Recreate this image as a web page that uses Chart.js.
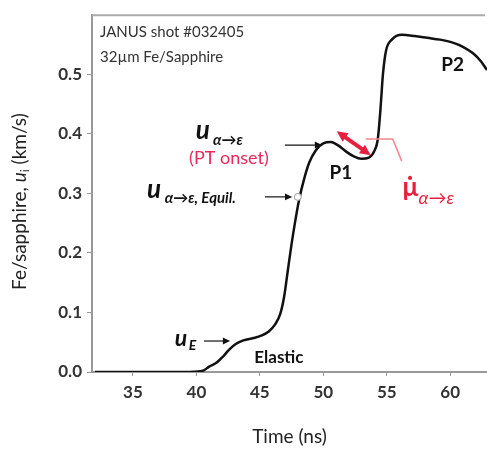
<!DOCTYPE html>
<html>
<head>
<meta charset="utf-8">
<script src="https://cdn.jsdelivr.net/npm/chart.js@4"></script>
<style>
  body { margin: 0; background: #fff; }
  #wrap { width: 487px; height: 452px; }
</style>
</head>
<body>
<div id="wrap"><canvas id="chart" width="487" height="452"></canvas></div>
<script>
// Fe/sapphire interface velocity, JANUS shot #032405

const times = [32, 34, 36, 38, 39.5, 40.5, 41.0, 41.6, 42.1, 42.6, 43.1, 43.7, 44.5, 45.1, 45.7, 46.2, 46.6, 46.9, 47.2,
  47.5, 47.8, 48.1, 48.5, 48.9, 49.4, 50.0, 50.6, 51.2, 51.8, 52.4, 53.0, 53.6, 54.0, 54.3, 54.5, 54.7, 54.95,
  55.4, 56.2, 57.2, 58.2, 59.2, 60.2, 61.0, 61.8, 62.4, 62.9];
const velocity = [0, 0, 0, 0, 0, 0.002, 0.009, 0.016, 0.026, 0.038, 0.047, 0.053, 0.057, 0.061, 0.068, 0.08, 0.097, 0.125, 0.17,
  0.215, 0.255, 0.29, 0.325, 0.352, 0.372, 0.384, 0.386, 0.38, 0.37, 0.362, 0.358, 0.36, 0.37, 0.392, 0.44, 0.5, 0.54,
  0.558, 0.566, 0.564, 0.561, 0.558, 0.553, 0.546, 0.535, 0.522, 0.507];

const xTicks = [35, 40, 45, 50, 55, 60];
const yTicks = [0, 0.1, 0.2, 0.3, 0.4, 0.5];

// text notes, in data coordinates
const notes = [
  { text: 'JANUS shot #032405', t: 32.4, u: 0.571, font: 'normal 15px', color: '#333', align: 'left' },
  { text: '32\u00b5m Fe/Sapphire', t: 32.4, u: 0.529, font: 'normal 15px', color: '#333', align: 'left' },
  { text: 'P2', t: 60.2, u: 0.516, font: 'bold 19px', color: '#111', align: 'center' },
  { text: 'P1', t: 51.38, u: 0.334, font: 'bold 19px', color: '#111', align: 'center' },
  { text: 'Elastic', t: 46.5, u: 0.024, font: 'bold 17px', color: '#111', align: 'center' },
  { text: 'u', t: 38.3, u: 0.056, font: 'italic bold 23px', color: '#111', align: 'left' },
  { text: 'E', t: 39.4, u: 0.045, font: 'italic bold 14px', color: '#111', align: 'left' },
  { text: 'u', t: 39.95, u: 0.406, font: 'italic bold 26px', color: '#111', align: 'left' },
  { text: '\u03b1\u2192\u03b5', t: 41.3, u: 0.389, font: 'italic bold 15px', color: '#111', align: 'left' },
  { text: '(PT onset)', t: 42.56, u: 0.359, font: 'normal 18px', color: '#e8295a', align: 'center' },
  { text: 'u', t: 36.1, u: 0.306, font: 'italic bold 26px', color: '#111', align: 'left' },
  { text: '\u03b1\u2192\u03b5, Equil.', t: 37.5, u: 0.292, font: 'italic bold 15px', color: '#111', align: 'left' },
  { text: '\u03bc\u0307', t: 56.25, u: 0.31, font: 'bold 26px', color: '#e8203f', align: 'left' },
  { text: '\u03b1\u2192\u03b5', t: 57.5, u: 0.291, font: 'italic 18px', color: '#e8203f', align: 'left' }
];

// arrows: [t1, u1, t2, u2]
const blackArrows = [
  [40.6, 0.052, 42.65, 0.052],
  [46.97, 0.381, 49.9, 0.381],
  [45.4, 0.294, 47.55, 0.294]
];
const redDoubleArrow = [51.06, 0.404, 53.74, 0.364];
const redLeader = [[53.35, 0.391], [55.47, 0.391], [56.18, 0.354]];
const equilPoint = [47.99, 0.294];

function arrowHead(ctx, x1, y1, x2, y2, size) {
  const a = Math.atan2(y2 - y1, x2 - x1);
  ctx.beginPath();
  ctx.moveTo(x2, y2);
  ctx.lineTo(x2 - size * Math.cos(a - 0.45), y2 - size * Math.sin(a - 0.45));
  ctx.lineTo(x2 - size * Math.cos(a + 0.45), y2 - size * Math.sin(a + 0.45));
  ctx.closePath();
  ctx.fill();
}

const notesPlugin = {
  id: 'notes',
  afterDraw(chart) {
    const ctx = chart.ctx;
    const xs = chart.scales.x, ys = chart.scales.y;
    const px = t => xs.getPixelForValue(t);
    const py = u => ys.getPixelForValue(u);
    const area = chart.chartArea;
    ctx.save();

    // top frame line
    ctx.strokeStyle = '#aaa';
    ctx.lineWidth = 2;
    ctx.beginPath();
    ctx.moveTo(area.left, area.top);
    ctx.lineTo(area.right - 2, area.top);
    ctx.stroke();

    // y axis title, rotated
    ctx.translate(20, (area.top + area.bottom) / 2 + 8);
    ctx.rotate(-Math.PI / 2);
    ctx.fillStyle = '#222';
    ctx.textBaseline = 'middle';
    const parts = [
      ['Fe/sapphire, ', 'normal 19px Lato', 0],
      ['u', 'italic 19px Lato', 0],
      ['i', 'normal 12px Lato', 5],
      [' (km/s)', 'normal 19px Lato', 0]
    ];
    let total = 0;
    parts.forEach(p => { ctx.font = p[1]; total += ctx.measureText(p[0]).width; });
    let cx = -total / 2;
    parts.forEach(p => {
      ctx.font = p[1];
      ctx.textAlign = 'left';
      ctx.fillText(p[0], cx, p[2]);
      cx += ctx.measureText(p[0]).width;
    });
    ctx.setTransform(1, 0, 0, 1, 0, 0);

    // notes
    ctx.textBaseline = 'middle';
    notes.forEach(n => {
      ctx.font = n.font + ' Lato';
      ctx.fillStyle = n.color;
      ctx.textAlign = n.align;
      ctx.fillText(n.text, px(n.t), py(n.u));
    });

    // black arrows
    ctx.strokeStyle = '#111';
    ctx.fillStyle = '#111';
    ctx.lineWidth = 1.2;
    blackArrows.forEach(a => {
      const x1 = px(a[0]), y1 = py(a[1]), x2 = px(a[2]), y2 = py(a[3]);
      ctx.beginPath();
      ctx.moveTo(x1, y1);
      ctx.lineTo(x2 - 4, y2);
      ctx.stroke();
      arrowHead(ctx, x1, y1, x2, y2, 8);
    });

    // red leader line
    ctx.strokeStyle = '#f2868f';
    ctx.lineWidth = 1.5;
    ctx.beginPath();
    redLeader.forEach((p, i) => {
      if (i === 0) ctx.moveTo(px(p[0]), py(p[1]));
      else ctx.lineTo(px(p[0]), py(p[1]));
    });
    ctx.stroke();

    // red double arrow
    const r = redDoubleArrow;
    const rx1 = px(r[0]), ry1 = py(r[1]), rx2 = px(r[2]), ry2 = py(r[3]);
    ctx.strokeStyle = '#e8203f';
    ctx.fillStyle = '#e8203f';
    ctx.lineWidth = 4;
    const ang = Math.atan2(ry2 - ry1, rx2 - rx1);
    ctx.beginPath();
    ctx.moveTo(rx1 + 8 * Math.cos(ang), ry1 + 8 * Math.sin(ang));
    ctx.lineTo(rx2 - 8 * Math.cos(ang), ry2 - 8 * Math.sin(ang));
    ctx.stroke();
    arrowHead(ctx, rx1, ry1, rx2, ry2, 12);
    arrowHead(ctx, rx2, ry2, rx1, ry1, 12);

    // equilibrium marker
    ctx.fillStyle = '#fff';
    ctx.strokeStyle = '#999';
    ctx.lineWidth = 1;
    ctx.beginPath();
    ctx.arc(px(equilPoint[0]), py(equilPoint[1]), 3.5, 0, Math.PI * 2);
    ctx.fill();
    ctx.stroke();

    ctx.restore();
  }
};

new Chart(document.getElementById('chart'), {
  type: 'line',
  data: {
    labels: times,
    datasets: [{
      data: times.map((t, i) => ({ x: t, y: velocity[i] })),
      borderColor: '#111',
      borderWidth: 2.5,
      pointRadius: 0,
      cubicInterpolationMode: 'monotone',
      fill: false
    }]
  },
  options: {
    responsive: false,
    animation: false,
    layout: { padding: { top: 13, right: 0, left: 0, bottom: 0 } },
    plugins: { legend: { display: false }, tooltip: { enabled: false } },
    scales: {
      x: {
        type: 'linear',
        min: 31.77,
        max: 62.9,
        afterBuildTicks: s => { s.ticks = xTicks.map(v => ({ value: v })); },
        afterFit: s => { s.height = 80; },
        border: { color: '#999', width: 2 },
        grid: { display: true, drawOnChartArea: false, drawTicks: true, tickLength: 4, color: '#999' },
        ticks: { color: '#333', padding: 6, font: { family: 'Lato', size: 17, weight: 'bold' }, maxRotation: 0 },
        title: { display: true, text: 'Time (ns)', color: '#222', font: { family: 'Lato', size: 19 }, padding: { top: 4, bottom: 4 } }
      },
      y: {
        min: 0,
        max: 0.599,
        afterBuildTicks: s => { s.ticks = yTicks.map(v => ({ value: v })); },
        afterFit: s => { s.width = 92; },
        border: { color: '#999', width: 2 },
        grid: { display: true, drawOnChartArea: false, drawTicks: true, tickLength: 5, color: '#999' },
        ticks: { color: '#333', padding: 5, font: { family: 'Lato', size: 17, weight: 'bold' }, callback: v => v.toFixed(1) }
      }
    }
  },
  plugins: [notesPlugin]
});
</script>
</body>
</html>
